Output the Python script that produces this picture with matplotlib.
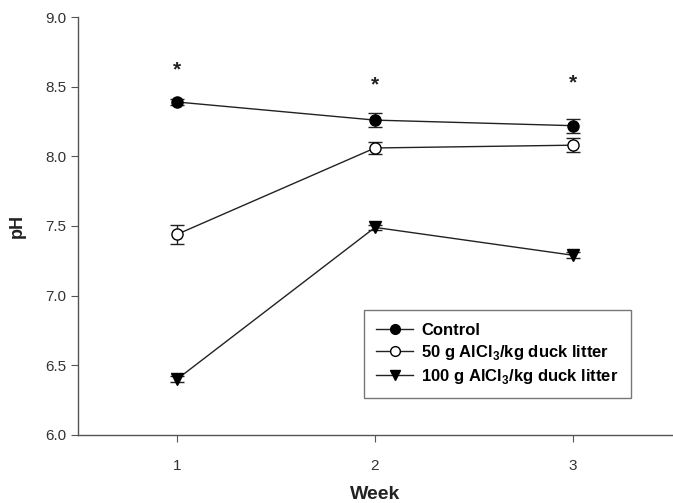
import numpy as np
import matplotlib
matplotlib.use("Agg")
import matplotlib.pyplot as plt
from matplotlib.lines import Line2D

plt.rcParams['font.family'] = ['Liberation Sans', 'DejaVu Sans']
plt.rcParams['mathtext.fontset'] = 'custom'
plt.rcParams['mathtext.rm'] = 'Liberation Sans'
plt.rcParams['mathtext.bf'] = 'Liberation Sans:bold'

# data
weeks = [1, 2, 3]
control = [8.39, 8.26, 8.22]
control_err = [0.02, 0.05, 0.05]
alcl50 = [7.44, 8.06, 8.08]
alcl50_err = [0.07, 0.04, 0.05]
alcl100 = [6.40, 7.49, 7.29]
alcl100_err = [0.02, 0.02, 0.02]
star_y = [8.62, 8.51, 8.53]

fig = plt.figure(figsize=(6.73, 5.03), dpi=100)
ax = fig.add_axes([0.1159, 0.1352, 0.8826, 0.831])

series = [
    (control, control_err, 'o', 'black', 'Control'),
    (alcl50, alcl50_err, 'o', 'white', r'50 g AlCl$_\mathbf{3}$/kg duck litter'),
    (alcl100, alcl100_err, 'v', 'black', r'100 g AlCl$_\mathbf{3}$/kg duck litter'),
]
handles = []
for vals, errs, mk, fc, lab in series:
    ax.errorbar(weeks, vals, yerr=errs, marker=mk, markersize=8,
                markerfacecolor=fc, markeredgecolor='black', markeredgewidth=1,
                color='#222222', linewidth=1, ecolor='#222222', elinewidth=1,
                capsize=5, capthick=1)
    handles.append(Line2D([], [], color='#222222', linewidth=1, marker=mk,
                          markersize=7, markerfacecolor=fc,
                          markeredgecolor='black', label=lab))

for w, y in zip(weeks, star_y):
    ax.text(w, y, '*', ha='center', va='center', fontsize=15,
            fontweight='bold', color='#222222')

ax.set_xlim(0.5, 3.5)
ax.set_ylim(6.0, 9.0)
ax.set_xticks(weeks)
ax.set_yticks(np.arange(6.0, 9.01, 0.5))
ax.set_yticklabels([f'{v:.1f}' for v in np.arange(6.0, 9.01, 0.5)])

for s in ['top', 'right']:
    ax.spines[s].set_visible(False)
for s in ['left', 'bottom']:
    ax.spines[s].set_color('#555555')
    ax.spines[s].set_linewidth(1)
ax.tick_params(axis='both', direction='out', length=5, color='#555555',
               labelsize=11, labelcolor='#333333')
ax.tick_params(axis='x', pad=12)

ax.set_xlabel('Week', fontsize=14, fontweight='bold', color='#222222', labelpad=10)
ax.set_ylabel('pH', fontsize=13, fontweight='bold', color='#222222', labelpad=14)

leg = ax.legend(handles=handles, loc='upper left', bbox_to_anchor=(0.481, 0.299),
                borderaxespad=0, fancybox=False, edgecolor='#555555', frameon=True,
                prop={'weight': 'bold', 'size': 12}, handlelength=2.2,
                borderpad=0.75, labelspacing=0.3, handletextpad=0.5)
leg.get_frame().set_linewidth(1)

fig.savefig('out.png', dpi=100)
